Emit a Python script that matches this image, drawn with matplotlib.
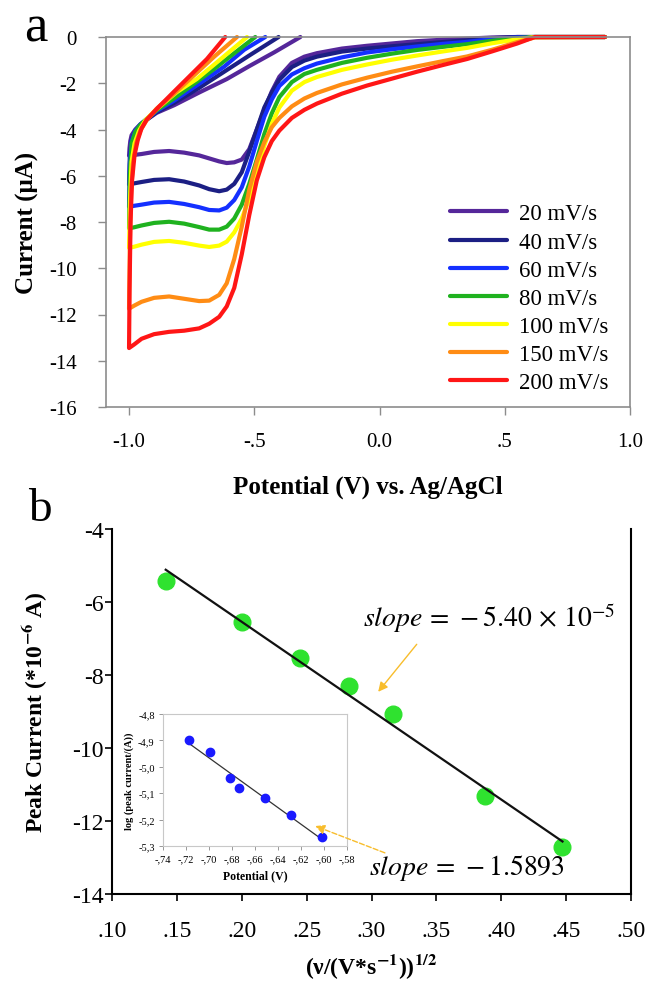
import numpy as np
import matplotlib
matplotlib.use("Agg")
import matplotlib.pyplot as plt

plt.rcParams['font.family'] = ['Liberation Serif', 'DejaVu Serif']
plt.rcParams['mathtext.fontset'] = 'stix'

# ---- panel a: cyclic voltammograms ----
rates = ['20 mV/s', '40 mV/s', '60 mV/s', '80 mV/s', '100 mV/s', '150 mV/s', '200 mV/s']
colors = ['#55279a', '#1c1f84', '#1430ff', '#1fb21f', '#ffff00', '#ff8c14', '#ff1616']

# cathodic sweep, common potential grid (V)
E_fwd = [0.90, 0.62, 0.55, 0.45, 0.35, 0.25, 0.15, 0.05, -0.05, -0.15, -0.25, -0.30, -0.35,
         -0.40, -0.43, -0.46, -0.49, -0.52, -0.55, -0.58, -0.61, -0.64, -0.68, -0.72, -0.78,
         -0.84, -0.90, -0.95, -0.98, -1.00]
I_fwd_20 = [0, 0, 0, -0.02, -0.07, -0.12, -0.18, -0.28, -0.38, -0.50, -0.70, -0.85, -1.12,
            -1.72, -2.35, -3.15, -4.0, -4.85, -5.30, -5.42, -5.45, -5.38, -5.25, -5.12, -5.0,
            -4.93, -4.97, -5.06, -5.10, -5.13]
I_fwd_40 = [0, 0, 0, -0.05, -0.14, -0.22, -0.31, -0.40, -0.50, -0.63, -0.85, -1.02, -1.30,
            -1.85, -2.40, -3.05, -4.0, -4.95, -5.85, -6.35, -6.60, -6.67, -6.58, -6.42, -6.25,
            -6.15, -6.18, -6.27, -6.33, -6.38]
I_fwd_60 = [0, 0, -0.02, -0.09, -0.21, -0.30, -0.41, -0.53, -0.67, -0.88, -1.15, -1.35, -1.62,
            -2.12, -2.70, -3.45, -4.50, -5.60, -6.50, -7.05, -7.38, -7.50, -7.48, -7.36, -7.22,
            -7.13, -7.16, -7.25, -7.30, -7.34]
I_fwd_80 = [0, 0, -0.05, -0.16, -0.31, -0.43, -0.56, -0.72, -0.90, -1.12, -1.42, -1.60, -1.95,
            -2.60, -3.30, -4.20, -5.30, -6.35, -7.25, -7.85, -8.20, -8.33, -8.33, -8.22, -8.07,
            -7.99, -8.04, -8.15, -8.23, -8.27]
I_fwd_100 = [0, 0, -0.10, -0.27, -0.47, -0.63, -0.80, -0.98, -1.19, -1.42, -1.73, -1.95, -2.32,
             -3.05, -3.75, -4.70, -5.90, -7.00, -7.85, -8.45, -8.85, -9.02, -9.08, -9.02, -8.90,
             -8.82, -8.86, -8.98, -9.07, -9.12]
I_fwd_150 = [0, -0.02, -0.22, -0.55, -0.84, -1.05, -1.27, -1.50, -1.76, -2.05, -2.42, -2.66, -3.0,
             -3.5, -3.90, -4.55, -5.40, -6.60, -8.20, -9.60, -10.65, -11.15, -11.40, -11.42, -11.32,
             -11.22, -11.28, -11.45, -11.62, -11.75]
I_fwd_200 = [0, 0, -0.28, -0.62, -0.95, -1.22, -1.50, -1.80, -2.10, -2.45, -2.88, -3.15, -3.50,
             -4.05, -4.50, -5.20, -6.20, -7.70, -9.40, -10.85, -11.65, -12.10, -12.40, -12.60, -12.70,
             -12.75, -12.85, -13.05, -13.30, -13.45]

# anodic return sweep
E_rev_20 = [-1.0, -0.998, -0.995, -0.99, -0.975, -0.955, -0.93, -0.89, -0.82, -0.72, -0.61, -0.52, -0.42, -0.316]
I_rev_20 = [-5.13, -4.8, -4.5, -4.25, -4.0, -3.78, -3.58, -3.28, -2.95, -2.40, -1.82, -1.26, -0.66, 0.0]
E_rev_40 = [-1.0, -0.997, -0.99, -0.975, -0.955, -0.93, -0.89, -0.82, -0.72, -0.62, -0.52, -0.403]
I_rev_40 = [-6.38, -5.2, -4.45, -4.05, -3.8, -3.58, -3.25, -2.85, -2.2, -1.5, -0.8, 0.0]
E_rev_60 = [-1.0, -0.997, -0.99, -0.975, -0.955, -0.93, -0.89, -0.82, -0.72, -0.62, -0.54, -0.456]
I_rev_60 = [-7.34, -5.5, -4.5, -4.05, -3.78, -3.55, -3.2, -2.75, -2.02, -1.28, -0.55, 0.0]
E_rev_80 = [-1.0, -0.997, -0.99, -0.975, -0.955, -0.93, -0.89, -0.82, -0.74, -0.66, -0.58, -0.496]
I_rev_80 = [-8.27, -6.0, -4.6, -4.1, -3.8, -3.55, -3.17, -2.65, -2.02, -1.38, -0.70, 0.0]
E_rev_100 = [-1.0, -0.996, -0.99, -0.978, -0.96, -0.935, -0.89, -0.81, -0.73, -0.65, -0.529]
I_rev_100 = [-9.12, -7.0, -5.4, -4.6, -4.05, -3.6, -3.12, -2.39, -1.82, -1.10, 0.0]
E_rev_150 = [-1.0, -0.997, -0.992, -0.985, -0.972, -0.955, -0.93, -0.89, -0.82, -0.74, -0.66, -0.569]
I_rev_150 = [-11.75, -9.0, -6.8, -5.5, -4.6, -4.05, -3.6, -3.1, -2.45, -1.65, -0.85, 0.0]
E_rev_200 = [-1.0, -0.998, -0.994, -0.988, -0.978, -0.965, -0.95, -0.93, -0.883, -0.823, -0.756, -0.689, -0.616]
I_rev_200 = [-13.45, -11.0, -8.0, -6.2, -5.1, -4.45, -3.95, -3.58, -3.04, -2.39, -1.67, -0.95, 0.0]

I_fwd = [I_fwd_20, I_fwd_40, I_fwd_60, I_fwd_80, I_fwd_100, I_fwd_150, I_fwd_200]
E_rev = [E_rev_20, E_rev_40, E_rev_60, E_rev_80, E_rev_100, E_rev_150, E_rev_200]
I_rev = [I_rev_20, I_rev_40, I_rev_60, I_rev_80, I_rev_100, I_rev_150, I_rev_200]

a_xticks = [-1.0, -0.5, 0.0, 0.5, 1.0]
a_xlabels = ['-1.0', '-.5', '0.0', '.5', '1.0']
a_yticks = [0, -2, -4, -6, -8, -10, -12, -14, -16]

# ---- panel b: peak current vs sqrt(scan rate) ----
sqrt_rate = [0.1414, 0.2000, 0.2449, 0.2828, 0.3162, 0.3873, 0.4472]
peak_current = [-5.42, -6.54, -7.53, -8.29, -9.07, -11.32, -12.72]
b_xticks = [0.10, 0.15, 0.20, 0.25, 0.30, 0.35, 0.40, 0.45, 0.50]
b_xlabels = ['.10', '.15', '.20', '.25', '.30', '.35', '.40', '.45', '.50']
b_yticks = [-4, -6, -8, -10, -12, -14]

# inset: log peak current vs peak potential
peak_potential = [-0.717, -0.699, -0.682, -0.674, -0.651, -0.629, -0.602]
log_peak = [-4.900, -4.945, -5.043, -5.081, -5.120, -5.182, -5.265]
in_xticks = [-0.74, -0.72, -0.70, -0.68, -0.66, -0.64, -0.62, -0.60, -0.58]
in_xlabels = ['-,74', '-,72', '-,70', '-,68', '-,66', '-,64', '-,62', '-,60', '-,58']
in_yticks = [-4.8, -4.9, -5.0, -5.1, -5.2, -5.3]
in_ylabels = ['-4,8', '-4,9', '-5,0', '-5,1', '-5,2', '-5,3']

W, H = 647, 987
fig = plt.figure(figsize=(W / 100, H / 100), dpi=100)

# panel a
ax1 = fig.add_axes([106 / W, 1 - 408 / H, 524 / W, 370 / H])
for i in range(len(rates)):
    E = np.concatenate([E_fwd, E_rev[i]])
    I = np.concatenate([I_fwd[i], I_rev[i]])
    ax1.plot(E, I, color=colors[i], lw=3, label=rates[i], solid_joinstyle='round',
             solid_capstyle='round', clip_on=False)
ax1.set_xlim(-1.092, 1.0)
ax1.set_ylim(-16, 0)
ax1.set_xticks(a_xticks)
ax1.set_xticklabels(a_xlabels)
ax1.set_yticks(a_yticks)
ax1.set_yticklabels([str(v) for v in a_yticks])
for s in ax1.spines.values():
    s.set_color('#8c8c8c')
    s.set_linewidth(1.2)
ax1.tick_params(direction='out', length=6, width=1, color='#8c8c8c', labelsize=15)
ax1.tick_params(axis='y', pad=15)
ax1.tick_params(axis='x', pad=12)
ax1.set_xlabel('Potential (V) vs. Ag/AgCl', fontsize=18, fontweight='bold', labelpad=17)
ax1.set_ylabel('Current (μA)', fontsize=18, fontweight='bold', labelpad=7)
ax1.legend(loc='lower right', bbox_to_anchor=(0.985, 0.0), frameon=False, fontsize=16.5,
           handlelength=2.5, handletextpad=0.5, labelspacing=0.31, borderaxespad=0.2)
fig.text(36 / W, 1 - 29 / H, 'a', fontsize=38, ha='center', va='center')

# panel b
ax2 = fig.add_axes([112 / W, 1 - 895 / H, 519 / W, 365 / H])
fit = np.polyfit(sqrt_rate, peak_current, 1)
xs = np.array([sqrt_rate[0], sqrt_rate[-1]])
ax2.plot(sqrt_rate, peak_current, 'o', color='#2fe22f', ms=12, zorder=2)
ax2.plot(xs, np.polyval(fit, xs), color='#111111', lw=1.6, zorder=3)
ax2.set_xlim(0.10, 0.50)
ax2.set_ylim(-14, -4)
ax2.set_xticks(b_xticks)
ax2.set_xticklabels(b_xlabels)
ax2.set_yticks(b_yticks)
ax2.set_yticklabels([str(v) for v in b_yticks])
ax2.spines['top'].set_visible(False)
for k in ['left', 'bottom', 'right']:
    ax2.spines[k].set_linewidth(1.5)
ax2.tick_params(direction='out', length=5, width=1.2, labelsize=17)
ax2.tick_params(axis='y', pad=1)
ax2.tick_params(axis='x', pad=14)
ax2.set_xlabel(r'(ν/(V*s$^{\mathbf{-1}}$))$^{\mathbf{1/2}}$', fontsize=17, fontweight='bold', labelpad=7)
ax2.set_ylabel(r'Peak Current (*10$^{\mathbf{-6}}$ A)', fontsize=17, fontweight='bold', labelpad=16)
ax2.text(0.3908, -6.41, r'$\mathit{slope}\,=\,-5.40\,\times\,10^{-5}$', fontsize=20,
         ha='center', va='center')
ax2.annotate('', xy=(0.3038, -8.52), xytext=(0.3362, -7.10),
             arrowprops=dict(arrowstyle='-|>', color='#f8bd2c', lw=1.0, mutation_scale=14))
ax2.text(0.3738, -13.26, r'$\mathit{slope}\,=\,-1.5893$', fontsize=20, ha='center', va='center')
fig.text(40 / W, 1 - 510 / H, 'b', fontsize=34, ha='center', va='center')

# inset
ax3 = fig.add_axes([163 / W, 1 - 847 / H, 184 / W, 132 / H])
fit2 = np.polyfit(peak_potential, log_peak, 1)
xs2 = np.array([peak_potential[0], peak_potential[-1]])
ax3.plot(xs2, np.polyval(fit2, xs2), color='#333333', lw=0.9, zorder=2)
ax3.plot(peak_potential, log_peak, 'o', color='#1a1aff', ms=6, zorder=3)
ax3.set_xlim(-0.74, -0.58)
ax3.set_ylim(-5.3, -4.8)
ax3.set_xticks(in_xticks)
ax3.set_xticklabels(in_xlabels)
ax3.set_yticks(in_yticks)
ax3.set_yticklabels(in_ylabels)
for s in ax3.spines.values():
    s.set_color('#c8c8c8')
    s.set_linewidth(0.8)
ax3.tick_params(direction='out', length=3, width=0.6, color='#888888', labelsize=7.5, pad=3)
ax3.set_xlabel('Potential (V)', fontsize=8.5, fontweight='bold', labelpad=4)
ax3.set_ylabel('log (peak current/(A))', fontsize=7.5, fontweight='bold', labelpad=3)
# dashed arrow into the inset, drawn on top of it
ax3.annotate('', xy=(0.2546, -12.11), xytext=(0.3123, -12.90),
             xycoords=ax2.transData, textcoords=ax2.transData, annotation_clip=False,
             arrowprops=dict(arrowstyle='-|>', color='#f8bd2c', lw=1.0, ls='--', mutation_scale=14))

fig.savefig('out.png', dpi=100)
